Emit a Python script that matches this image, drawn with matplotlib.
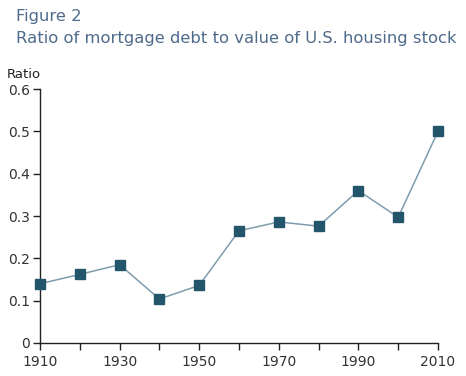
import matplotlib.pyplot as plt

years = [1910, 1920, 1930, 1940, 1950, 1960, 1970, 1980, 1990, 2000, 2010]
ratio = [0.140, 0.162, 0.185, 0.104, 0.136, 0.265, 0.286, 0.276, 0.360, 0.297, 0.500]

x_ticks = list(range(1910, 2011, 10))
x_labels = [str(y) if (y - 1910) % 20 == 0 else '' for y in x_ticks]
y_ticks = [0, 0.1, 0.2, 0.3, 0.4, 0.5, 0.6]
y_labels = ['0', '0.1', '0.2', '0.3', '0.4', '0.5', '0.6']

plt.rcParams['font.family'] = ['DejaVu Sans']

fig = plt.figure(figsize=(4.66, 3.76), dpi=100)
ax = fig.add_axes([40 / 466, 1 - 343 / 376, 398 / 466, 254 / 376])

ax.plot(years, ratio, color='#7f9cad', lw=1.1, zorder=2, clip_on=False)
ax.plot(years, ratio, ls='none', marker='s', ms=7, color='#24566b', zorder=3,
        clip_on=False)

ax.set_xlim(1910, 2010)
ax.set_ylim(0, 0.6)
ax.set_xticks(x_ticks)
ax.set_xticklabels(x_labels)
ax.set_yticks(y_ticks)
ax.set_yticklabels(y_labels)

for s in ['top', 'right']:
    ax.spines[s].set_visible(False)
for s in ['left', 'bottom']:
    ax.spines[s].set_color('#222222')
    ax.spines[s].set_linewidth(1.0)
ax.tick_params(direction='out', length=5, width=1, colors='#222222',
               labelsize=10, labelcolor='#333333')
ax.tick_params(axis='y', pad=2)

fig.text(16 / 466, 1 - 16 / 376, 'Figure 2', fontsize=11.8, color='#4f6b8c', va='center')
fig.text(16 / 466, 1 - 38 / 376, 'Ratio of mortgage debt to value of U.S. housing stock',
         fontsize=11.8, color='#4f6b8c', va='center')
fig.text(7 / 466, 1 - 74 / 376, 'Ratio', fontsize=9.5, color='#222222', va='center')

fig.savefig('out.png', dpi=100)
